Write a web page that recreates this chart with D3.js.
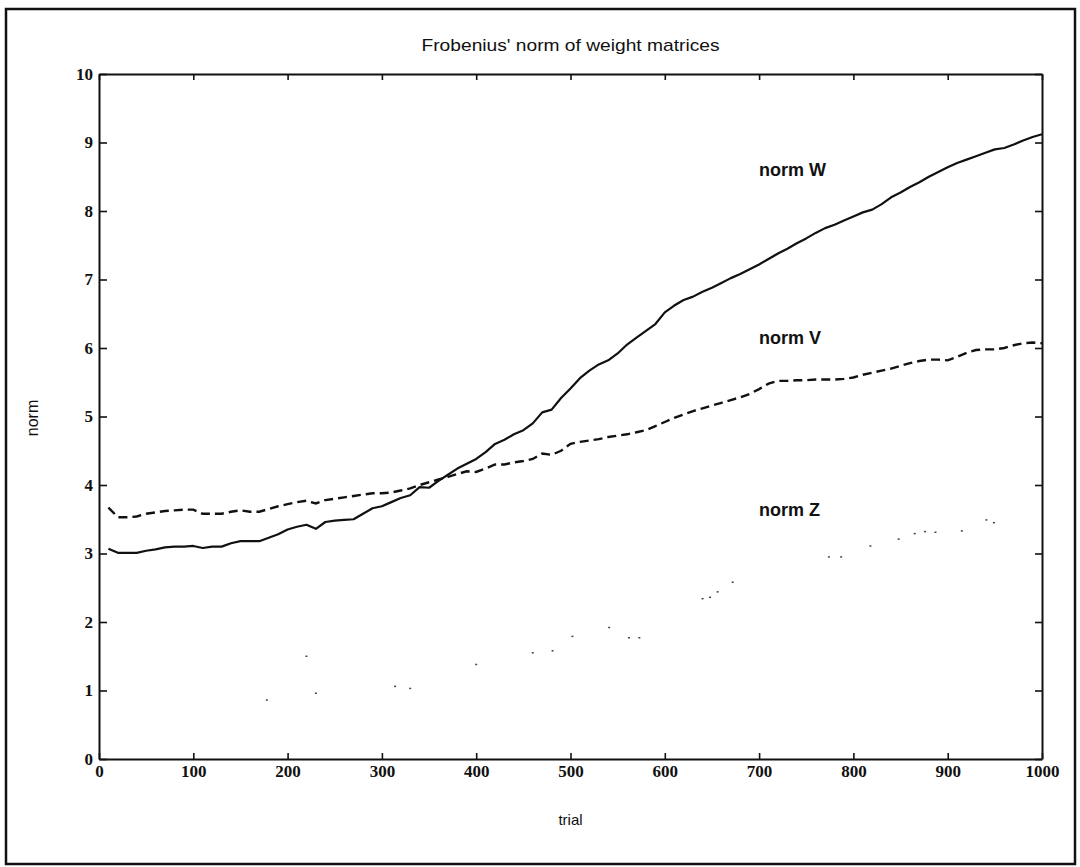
<!DOCTYPE html>
<html>
<head>
<meta charset="utf-8">
<script src="https://cdn.jsdelivr.net/npm/d3@7"></script>
<style>
  html, body { margin: 0; padding: 0; background: #fff; }
  svg { display: block; }
</style>
</head>
<body>
<svg id="chart" width="1080" height="867"></svg>
<script>
// Trial numbers sampled for the W and V norms
const trials = d3.range(10, 1001, 10);

// Frobenius norm of W (solid)
const normW = [
  3.07, 3.01, 3.01, 3.01, 3.04, 3.06, 3.09, 3.10, 3.10, 3.11,
  3.08, 3.10, 3.10, 3.15, 3.18, 3.18, 3.18, 3.23, 3.28, 3.35,
  3.39, 3.42, 3.36, 3.46, 3.48, 3.49, 3.50, 3.58, 3.66, 3.69,
  3.75, 3.81, 3.85, 3.97, 3.96, 4.06, 4.15, 4.24, 4.31, 4.38,
  4.48, 4.60, 4.66, 4.74, 4.80, 4.90, 5.06, 5.10, 5.27, 5.41,
  5.56, 5.67, 5.76, 5.82, 5.92, 6.05, 6.15, 6.25, 6.35, 6.52,
  6.62, 6.70, 6.75, 6.82, 6.88, 6.95, 7.02, 7.08, 7.15, 7.22,
  7.30, 7.38, 7.45, 7.53, 7.60, 7.68, 7.75, 7.80, 7.86, 7.92,
  7.98, 8.02, 8.10, 8.20, 8.27, 8.35, 8.42, 8.50, 8.57, 8.64,
  8.70, 8.75, 8.80, 8.85, 8.90, 8.92, 8.97, 9.03, 9.08, 9.12
];

// Frobenius norm of V (dashed)
const normV = [
  3.67, 3.53, 3.53, 3.54, 3.58, 3.60, 3.62, 3.63, 3.64, 3.64,
  3.58, 3.58, 3.58, 3.61, 3.63, 3.61, 3.61, 3.65, 3.69, 3.72,
  3.75, 3.77, 3.73, 3.78, 3.80, 3.82, 3.84, 3.86, 3.88, 3.88,
  3.89, 3.92, 3.95, 4.00, 4.04, 4.08, 4.12, 4.16, 4.20, 4.19,
  4.24, 4.30, 4.30, 4.33, 4.35, 4.38, 4.46, 4.44, 4.50, 4.60,
  4.63, 4.65, 4.67, 4.70, 4.72, 4.74, 4.77, 4.80, 4.86, 4.92,
  4.98, 5.03, 5.08, 5.12, 5.16, 5.20, 5.24, 5.28, 5.33, 5.40,
  5.48, 5.52, 5.52, 5.53, 5.53, 5.54, 5.54, 5.54, 5.55, 5.57,
  5.61, 5.64, 5.67, 5.70, 5.74, 5.78, 5.81, 5.83, 5.83, 5.82,
  5.87, 5.93, 5.97, 5.98, 5.98, 6.00, 6.04, 6.07, 6.08, 6.07
];

// Frobenius norm of Z (faint dotted trace)
const trialsZ = [178, 220, 230, 314, 330, 400, 460, 481, 502, 541, 562, 573,
                 640, 648, 656, 672, 774, 787, 818, 848, 865, 876, 887, 915, 941, 949];
const normZ   = [0.86, 1.50, 0.96, 1.06, 1.03, 1.38, 1.55, 1.58, 1.79, 1.92, 1.77, 1.77,
                 2.34, 2.36, 2.44, 2.58, 2.95, 2.95, 3.11, 3.21, 3.29, 3.32, 3.31, 3.33, 3.49, 3.45];

// Curve labels placed in data coordinates
const seriesLabels = ["norm W", "norm V", "norm Z"];
const labelTrial   = [700, 700, 700];
const labelValue   = [8.6, 6.15, 3.63];

const xTicks = d3.range(0, 1001, 100);
const yTicks = d3.range(0, 11, 1);

const svg = d3.select("#chart");
const plot = { left: 99, right: 1042, top: 74, bottom: 759 };

const x = d3.scaleLinear().domain([0, 1000]).range([plot.left, plot.right]);
const y = d3.scaleLinear().domain([0, 10]).range([plot.bottom, plot.top]);

const ink = "#111";
const serif = "'Liberation Serif', 'DejaVu Serif', serif";
const sans = "'Liberation Sans', Arial, sans-serif";

// Outer frame
svg.append("rect")
  .attr("x", 6).attr("y", 9)
  .attr("width", 1069).attr("height", 855)
  .attr("fill", "none").attr("stroke", ink).attr("stroke-width", 2.5);

// Title
svg.append("text")
  .attr("x", (plot.left + plot.right) / 2).attr("y", 51)
  .attr("text-anchor", "middle")
  .attr("font-family", sans).attr("font-size", 17)
  .attr("textLength", 298).attr("lengthAdjust", "spacingAndGlyphs")
  .attr("fill", ink)
  .text("Frobenius' norm of weight matrices");

// Axes (ticks point inward on every side)
function styleAxis(g) {
  g.select(".domain").attr("stroke", ink).attr("stroke-width", 2);
  g.selectAll(".tick line").attr("stroke", ink).attr("stroke-width", 1.6);
  g.selectAll(".tick text")
    .attr("font-family", serif).attr("font-weight", "bold")
    .attr("font-size", 17).attr("fill", ink);
}

svg.append("g")
  .attr("transform", `translate(0,${plot.bottom})`)
  .call(d3.axisBottom(x).tickValues(xTicks).tickFormat(d3.format("d"))
    .tickSizeInner(-6).tickSizeOuter(0).tickPadding(6))
  .call(styleAxis);

svg.append("g")
  .attr("transform", `translate(0,${plot.top})`)
  .call(d3.axisTop(x).tickValues(xTicks).tickSizeInner(-6).tickSizeOuter(0).tickFormat(""))
  .call(styleAxis);

svg.append("g")
  .attr("transform", `translate(${plot.left},0)`)
  .call(d3.axisLeft(y).tickValues(yTicks).tickFormat(d3.format("d"))
    .tickSizeInner(-8).tickSizeOuter(0).tickPadding(6))
  .call(styleAxis);

svg.append("g")
  .attr("transform", `translate(${plot.right},0)`)
  .call(d3.axisRight(y).tickValues(yTicks).tickSizeInner(-7).tickSizeOuter(0).tickFormat(""))
  .call(styleAxis);

// Axis titles
svg.append("text")
  .attr("x", (plot.left + plot.right) / 2).attr("y", 825)
  .attr("text-anchor", "middle")
  .attr("font-family", sans).attr("font-size", 15)
  .attr("fill", ink).text("trial");

svg.append("text")
  .attr("transform", `translate(38,418) rotate(-90)`)
  .attr("text-anchor", "middle")
  .attr("font-family", sans).attr("font-size", 16)
  .attr("fill", ink).text("norm");

// Curves
const line = d3.line()
  .x((d, i) => x(trials[i]))
  .y(d => y(d));

svg.append("path")
  .datum(normW)
  .attr("d", line)
  .attr("fill", "none").attr("stroke", ink)
  .attr("stroke-width", 2.2).attr("stroke-linejoin", "round");

svg.append("path")
  .datum(normV)
  .attr("d", line)
  .attr("fill", "none").attr("stroke", ink)
  .attr("stroke-width", 2.4).attr("stroke-dasharray", "9,5");

// Z is a faint dotted trace: only isolated specks are drawn
svg.append("g")
  .selectAll("rect")
  .data(normZ)
  .join("rect")
  .attr("x", (d, i) => x(trialsZ[i]) - 1)
  .attr("y", d => y(d) - 0.75)
  .attr("width", 2).attr("height", 1.5)
  .attr("fill", "#444");

// Curve labels
svg.append("g")
  .selectAll("text")
  .data(seriesLabels)
  .join("text")
  .attr("x", (d, i) => x(labelTrial[i]))
  .attr("y", (d, i) => y(labelValue[i]) + 6)
  .attr("font-family", sans).attr("font-weight", "bold")
  .attr("font-size", 18).attr("fill", ink)
  .text(d => d);
</script>
</body>
</html>
